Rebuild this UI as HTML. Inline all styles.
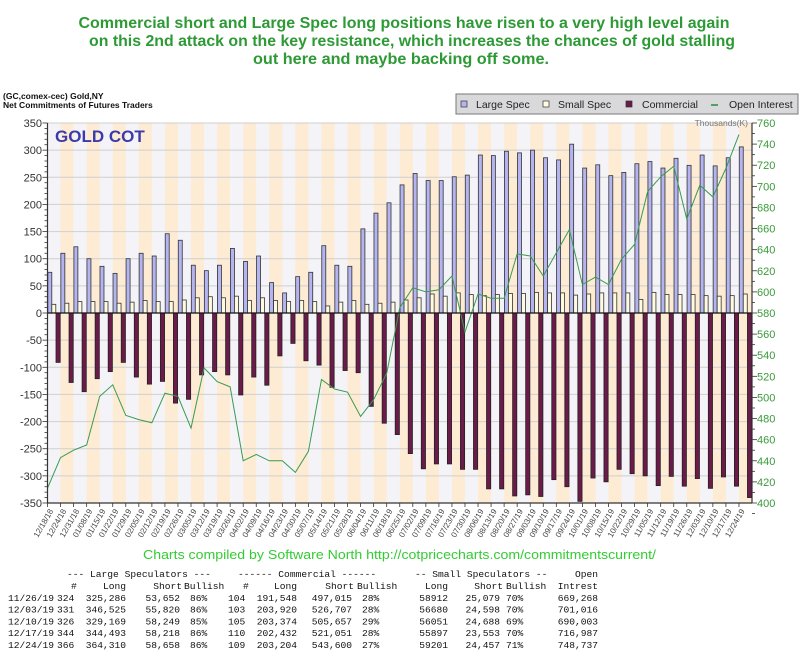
<!DOCTYPE html>
<html><head><meta charset="utf-8"><style>
html,body{margin:0;padding:0;background:#fff;}
svg{display:block;font-family:"Liberation Sans","DejaVu Sans",sans-serif;}
</style></head><body>
<svg id="chart" width="800" height="661" viewBox="0 0 800 661" xmlns="http://www.w3.org/2000/svg">
<g fill="#2d9a35" font-weight="bold" font-size="16" text-anchor="middle">
<text x="404" y="28" textLength="651" lengthAdjust="spacingAndGlyphs">Commercial short and Large Spec long positions have risen to a very high level again</text>
<text x="412" y="46" textLength="646" lengthAdjust="spacingAndGlyphs">on this 2nd attack on the key resistance, which increases the chances of gold stalling</text>
<text x="401" y="64" textLength="296" lengthAdjust="spacingAndGlyphs">out here and maybe backing off some.</text>
</g>
<text x="3" y="99" font-size="8.5" font-weight="bold" fill="#111">(GC,comex-cec) Gold,NY</text>
<text x="3" y="108" font-size="8.5" font-weight="bold" fill="#111">Net Commitments of Futures Traders</text>
<g>
<rect x="456" y="94" width="342" height="20" fill="#d9d9dc" stroke="#777"/>
<rect x="461" y="101" width="6" height="6" fill="#b4b4f0" stroke="#333" stroke-width="0.7"/>
<text x="476" y="108" font-size="10.5" fill="#222">Large Spec</text>
<rect x="543" y="101" width="6" height="6" fill="#fffbe0" stroke="#333" stroke-width="0.7"/>
<text x="558" y="108" font-size="10.5" fill="#222">Small Spec</text>
<rect x="626" y="101" width="6" height="6" fill="#6b1a4a" stroke="#333" stroke-width="0.7"/>
<text x="642" y="108" font-size="10.5" fill="#222">Commercial</text>
<line x1="711" y1="105" x2="718" y2="105" stroke="#2a8a3a" stroke-width="1.5"/>
<text x="729" y="108" font-size="10.5" fill="#222">Open Interest</text>
</g>
<g id="plot"></g>
<text x="55" y="142" font-size="17" font-weight="bold" fill="#3b3bab">GOLD COT</text>
<text x="748" y="126" font-size="8.5" fill="#777" text-anchor="end">Thousands(K)</text>
<text x="143" y="559" font-size="12.5" fill="#33cc33" textLength="513" lengthAdjust="spacingAndGlyphs">Charts compiled by Software North  http://cotpricecharts.com/commitmentscurrent/</text>
<g id="table" font-family="'Liberation Mono','DejaVu Sans Mono',monospace" font-size="9.6" fill="#111"></g>
</svg>
<script>
const dates = ["12/18/18","12/24/18","12/31/18","01/08/19","01/15/19","01/22/19","01/29/19","02/05/19","02/12/19","02/19/19","02/26/19","03/05/19","03/12/19","03/19/19","03/26/19","04/02/19","04/09/19","04/16/19","04/23/19","04/30/19","05/07/19","05/14/19","05/21/19","05/28/19","06/04/19","06/11/19","06/18/19","06/25/19","07/02/19","07/09/19","07/16/19","07/23/19","07/30/19","08/06/19","08/13/19","08/20/19","08/27/19","09/03/19","09/10/19","09/17/19","09/24/19","10/01/19","10/08/19","10/15/19","10/22/19","10/29/19","11/05/19","11/12/19","11/19/19","11/26/19","12/03/19","12/10/19","12/17/19","12/24/19"];
const largeSpec = [75,110,122,100,86,73,100,110,105,146,134,88,78,88,119,95,105,56,37,67,75,124,88,86,155,184,203,236,257,244,244,251,254,291,290,298,295,300,286,282,311,267,273,253,259,275,279,267,285,272,291,271,286,306];
const smallSpec = [16,18,21,21,21,18,20,23,21,21,24,28,30,28,31,23,28,23,21,23,21,13,20,23,16,18,20,24,28,35,31,37,34,32,34,36,36,38,37,37,33,35,37,37,37,25,38,34,34,34,32,31,32,35];
const commercial = [-91,-128,-145,-121,-108,-91,-118,-131,-126,-166,-159,-114,-108,-114,-151,-118,-133,-79,-56,-88,-96,-137,-106,-110,-172,-203,-224,-259,-287,-278,-278,-288,-288,-324,-324,-337,-335,-338,-307,-320,-347,-304,-311,-288,-296,-300,-318,-301,-319,-305,-323,-302,-319,-340];
const openInterest = [414,443,450,455,501,512,483,479,476,504,501,471,528,515,510,440,446,440,440,429,449,517,508,505,482,498,523,585,604,600,602,615,562,598,594,594,636,634,615,637,659,607,614,607,631,645,695,709,719,669,701,690,717,749];
const leftTicks = [350,300,250,200,150,100,50,0,-50,-100,-150,-200,-250,-300,-350];
const rightTicks = [760,740,720,700,680,660,640,620,600,580,560,540,520,500,480,460,440,420,400];

const NS="http://www.w3.org/2000/svg";
const plot=document.getElementById('plot');
const X0=47.5, X1=752, T=123, B=503;
const N=dates.length, SW=(X1-X0)/N;
const yL=v=>T+(350-v)*(B-T)/700;
const yR=v=>T+(760-v)*(B-T)/360;
const xs=i=>X0+i*SW;
function mk(tag,attrs,parent){const e=document.createElementNS(NS,tag);for(const k in attrs)e.setAttribute(k,attrs[k]);(parent||plot).appendChild(e);return e;}

for(let i=0;i<N;i++){
  const r=mk('rect',{x:xs(i),y:T,width:SW+0.2,height:B-T,fill:i%2?'#fdebd3':'#f4f4f8'});
  
  
}
leftTicks.forEach(v=>{
  const l=mk('line',{x1:X0,x2:X1,y1:yL(v),y2:yL(v),stroke:'#cfcfcf','stroke-width':1});
  
  
  const t=mk('text',{x:42,y:yL(v)+4,'font-size':11,fill:'#333','text-anchor':'end'});
  t.textContent=v;
  
  
});
for(let v=-350;v<=350;v+=10){mk('line',{x1:X0-(v%50===0?5:3),x2:X0,y1:yL(v),y2:yL(v),stroke:'#333','stroke-width':0.8});}
rightTicks.forEach(v=>{
  const t=mk('text',{x:757,y:yR(v)+4,'font-size':11,fill:'#3a9a3a'});
  t.textContent=v;
  
  
  mk('line',{x1:X1,x2:X1+5,y1:yR(v),y2:yR(v),stroke:'#333','stroke-width':0.8});
  mk('line',{x1:X1,x2:X1+3,y1:yR(v-10),y2:yR(v-10),stroke:'#333','stroke-width':0.8});
});
const y0=yL(0);
for(let i=0;i<N;i++){
  const x=xs(i);
  const a=mk('rect',{x:x+0.3,y:yL(largeSpec[i]),width:4,height:y0-yL(largeSpec[i]),fill:'#b4b4f0',stroke:'#333','stroke-width':0.8});
  
  
  const b=mk('rect',{x:x+4.3,y:yL(smallSpec[i]),width:4,height:y0-yL(smallSpec[i]),fill:'#fffbe0',stroke:'#333','stroke-width':0.8});
  
  
  const c=mk('rect',{x:x+8.5,y:y0,width:4.2,height:yL(commercial[i])-y0,fill:'#6b1a4a',stroke:'#222','stroke-width':0.8});
  
  
  mk('line',{x1:x,x2:x,y1:B,y2:B+4,stroke:'#333','stroke-width':0.8});
  const t=mk('text',{transform:`translate(${x+6},${B+8}) rotate(-60)`,'font-size':8,fill:'#444','text-anchor':'end'});
  t.textContent=dates[i];
  
  
}
const oi=mk('polyline',{points:openInterest.map((v,i)=>xs(i)+','+yR(v)).join(' '),fill:'none',stroke:'#3a9a50','stroke-width':1});


mk('line',{x1:X0,x2:X1,y1:y0,y2:y0,stroke:'#111','stroke-width':1.3});
mk('line',{x1:X0,x2:X0,y1:T,y2:B,stroke:'#333','stroke-width':1.2});
mk('line',{x1:X1,x2:X1,y1:T,y2:B,stroke:'#333','stroke-width':1.2});
mk('line',{x1:X0,x2:X1,y1:B,y2:B,stroke:'#333','stroke-width':1.2});

// table
const tbl=document.getElementById('table');
function tx(x,y,s,anchor){const t=mk('text',{x:x,y:y,'text-anchor':anchor||'start'},tbl);t.textContent=s;return t;}
const rowDates=["11/26/19","12/03/19","12/10/19","12/17/19","12/24/19"];
const lsN=["324","331","326","344","366"],lsL=["325,286","346,525","329,169","344,493","364,310"],lsS=["53,652","55,820","58,249","58,218","58,658"],lsB=["86%","86%","85%","86%","86%"];
const cmN=["104","103","105","110","109"],cmL=["191,548","203,920","203,374","202,432","203,204"],cmS=["497,015","526,707","505,657","521,051","543,600"],cmB=["28%","28%","29%","28%","27%"];
const ssL=["58912","56680","56051","55897","59201"],ssS=["25,079","24,598","24,688","23,553","24,457"],ssB=["70%","70%","69%","70%","71%"];
const oiT=["669,268","701,016","690,003","716,987","748,737"];
tx(67,577,"--- Large Speculators ---");tx(238,577,"------ Commercial ------");tx(415,577,"-- Small Speculators --");tx(598,577,"Open","end");
tx(71,589,"#");tx(126,589,"Long","end");tx(182,589,"Short","end");tx(184,589,"Bullish");tx(243,589,"#");tx(297,589,"Long","end");tx(354,589,"Short","end");tx(357,589,"Bullish");tx(448,589,"Long","end");tx(503,589,"Short","end");tx(506,589,"Bullish");tx(598,589,"Intrest","end");
for(let r=0;r<5;r++){const y=601+r*11.7;
tx(8,y,rowDates[r]);tx(57,y,lsN[r]);tx(126,y,lsL[r],"end");tx(180,y,lsS[r],"end");tx(190,y,lsB[r]);
tx(228,y,cmN[r]);tx(297,y,cmL[r],"end");tx(352,y,cmS[r],"end");tx(362,y,cmB[r]);
tx(448,y,ssL[r],"end");tx(500,y,ssS[r],"end");tx(506,y,ssB[r]);tx(598,y,oiT[r],"end");}
</script>
</body></html>
